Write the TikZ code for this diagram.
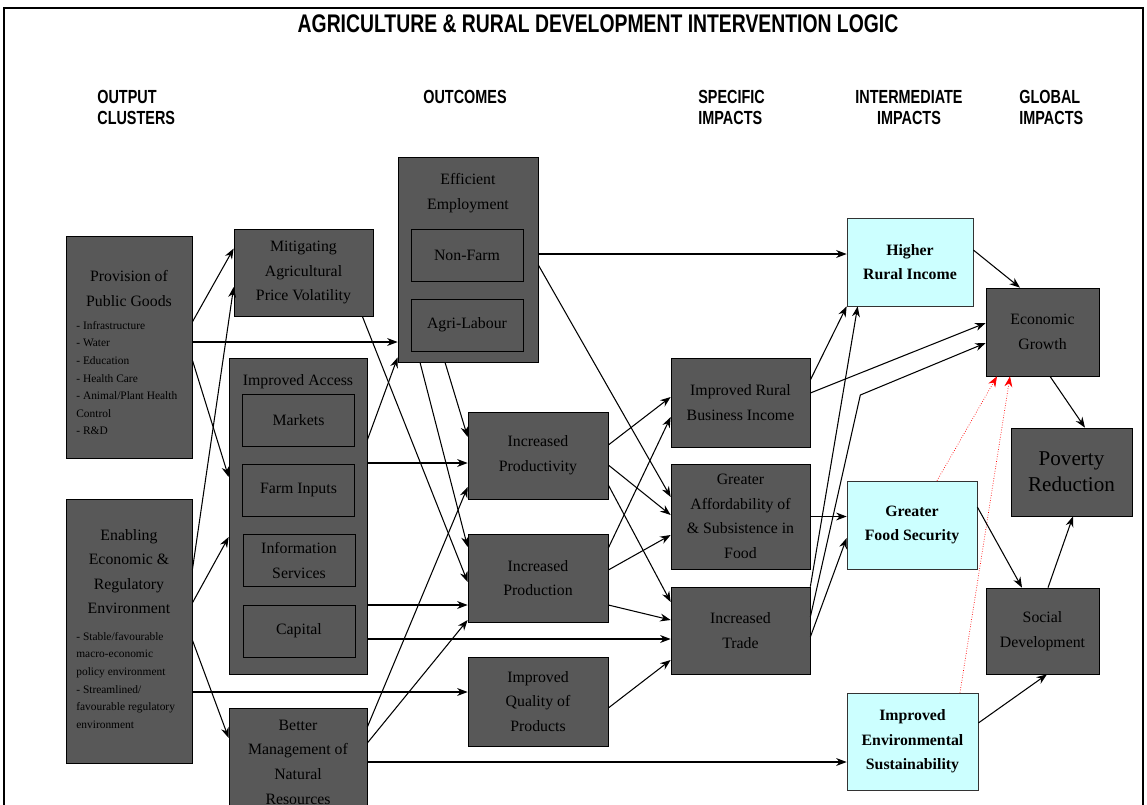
\documentclass[tikz,border=0pt]{standalone}
\usepackage{fontspec}
\setmainfont{Liberation Serif}
\newfontfamily\headfont[FakeStretch=0.76]{Liberation Sans}
\usetikzlibrary{arrows.meta,calc,positioning}
\definecolor{boxgray}{RGB}{88,88,88}
\definecolor{impactcyan}{RGB}{204,255,255}
\tikzset{
  darkbox/.style   = {shape=rectangle, draw=black, fill=boxgray, text=black, inner sep=0pt,
                      align=center, font=\fontsize{9}{14}\selectfont},
  innerbox/.style  = {darkbox, minimum width=2.24cm, minimum height=1.04cm},
  impactbox/.style = {shape=rectangle, draw=black!80, fill=impactcyan, text=black, inner sep=0pt,
                      align=center, font=\bfseries\fontsize{9}{14}\selectfont},
  boxtitle/.style  = {align=center, inner sep=0pt, text=black, font=\fontsize{9}{14}\selectfont},
  boxlist/.style   = {align=left, anchor=north west, inner sep=0pt, text=black,
                      font=\fontsize{6.5}{10}\selectfont},
  header/.style    = {inner sep=0pt, font=\headfont\bfseries\fontsize{10.8}{12}\selectfont},
  link/.style      = {draw=black, line width=0.6pt, -{Stealth[length=6pt,width=4.5pt]}},
  hint/.style      = {draw=red, line width=0.4pt, densely dotted,
                      -{Stealth[length=6pt,width=4.5pt]}}
}

\begin{document}
\begin{tikzpicture}[x=0.02cm,y=-0.02cm]
  \useasboundingbox (0,0) rectangle (1147,805);
  \clip (0,0) rectangle (1147,805);
  \draw[line width=1.2pt] (4,812) -- (4,8) -- (1143,8) -- (1143,812);

  \node[inner sep=0pt, font=\headfont\bfseries\fontsize{14.5}{16}\selectfont] (title) at (598,23.5)
    {AGRICULTURE \& RURAL DEVELOPMENT INTERVENTION LOGIC};
  \node[header, anchor=north west, align=left] (hOut) at (97,90) {OUTPUT\\CLUSTERS};
  \node[header] (hOutc) at (465,96.5) {OUTCOMES};
  \node[header, anchor=north west, align=left] (hSpec) at (698,90) {SPECIFIC\\IMPACTS};
  \node[header, anchor=north, align=center] (hInt) at (909,90) {INTERMEDIATE\\IMPACTS};
  \node[header, anchor=north west, align=left] (hGlob) at (1019,90) {GLOBAL\\IMPACTS};

  % output clusters
  \node[darkbox, minimum width=2.52cm, minimum height=4.44cm] (pg) at (129,347) {};
  \node[boxtitle] (pgT) at (129,288.5) {Provision of\\Public Goods};
  \node[boxlist] (pgL) at (76,321)
    {- Infrastructure\\- Water\\- Education\\- Health Care\\- Animal/Plant Health\\Control\\- R\&D};
  \node[darkbox, minimum width=2.52cm, minimum height=5.28cm] (ee) at (129,631) {};
  \node[boxtitle] (eeT) at (129,571.5) {Enabling\\Economic \&\\Regulatory\\Environment};
  \node[boxlist] (eeL) at (76,632)
    {- Stable/favourable\\macro-economic\\policy environment\\- Streamlined/\\favourable regulatory\\environment};

  \node[darkbox, minimum width=2.78cm, minimum height=1.74cm] (mp) at (303.5,272.5)
    {Mitigating\\Agricultural\\Price Volatility};
  \node[darkbox, minimum width=2.76cm, minimum height=6.32cm] (ia) at (298,516) {};
  \node[boxtitle] (iaT) at (298,382) {Improved Access};
  \node[innerbox] (mk) at (298.5,420.5) {Markets};
  \node[innerbox] (fi) at (298.5,490) {Farm Inputs};
  \node[innerbox] (is) at (299,560.5) {Information\\Services};
  \node[innerbox] (cp) at (299,631) {Capital};
  \node[darkbox, minimum width=2.76cm, minimum height=2.16cm] (bm) at (298,762)
    {Better\\Management of\\Natural\\Resources};

  % outcomes
  \node[darkbox, minimum width=2.8cm, minimum height=4.1cm] (ef) at (468,259.5) {};
  \node[boxtitle] (efT) at (468,193) {Efficient\\Employment};
  \node[innerbox] (nf) at (467,255) {Non-Farm};
  \node[innerbox] (al) at (467,325) {Agri-Labour};
  \node[darkbox, minimum width=2.8cm, minimum height=1.74cm] (ip) at (538,455.5) {Increased\\Productivity};
  \node[darkbox, minimum width=2.8cm, minimum height=1.76cm] (ipn) at (538,578) {Increased\\Production};
  \node[darkbox, minimum width=2.8cm, minimum height=1.78cm] (iq) at (538,701.5) {Improved\\Quality of\\Products};

  % specific impacts
  \node[darkbox, minimum width=2.78cm, minimum height=1.78cm] (rb) at (740.5,402.5) {Improved Rural\\Business Income};
  \node[darkbox, minimum width=2.78cm, minimum height=2.1cm] (ga) at (740.5,516.5)
    {Greater\\Affordability of\\\& Subsistence in\\Food};
  \node[darkbox, minimum width=2.78cm, minimum height=1.74cm] (it) at (740.5,630.5) {Increased\\Trade};

  % intermediate impacts
  \node[impactbox, minimum width=2.52cm, minimum height=1.76cm] (hr) at (910,262) {Higher\\Rural Income};
  \node[impactbox, minimum width=2.6cm, minimum height=1.76cm] (gf) at (912,525) {Greater\\Food Security};
  \node[impactbox, minimum width=2.62cm, minimum height=1.94cm] (ie) at (912.5,741.5)
    {Improved\\Environmental\\Sustainability};

  % global impacts
  \node[darkbox, minimum width=2.26cm, minimum height=1.76cm] (eg) at (1042.5,332) {Economic\\Growth};
  \node[darkbox, minimum width=2.42cm, minimum height=1.76cm, font=\fontsize{12}{15}\selectfont] (pr)
    at (1071.5,472) {Poverty\\Reduction};
  \node[darkbox, minimum width=2.26cm, minimum height=1.72cm] (sd) at (1042.5,631) {Social\\Development};

  \draw[link] ($(pg.east)+(0,-25)$) -- ($(mp.west)+(0,-24)$);
  \draw[link] ($(pg.east)+(0,-5)$) -- ($(ef.west|-pg.east)+(0,-5)$);
  \draw[link] ($(pg.east)+(0,13)$) -- ($(ia.west)+(0,-39)$);
  \draw[link] ($(ee.east)+(0,-61)$) -- ($(mp.west)+(0,14.5)$);
  \draw[link] ($(ee.east)+(0,-28)$) -- ($(ia.west)+(0,21)$);
  \draw[link] ($(ee.east)+(0,9)$) -- ($(bm.west)+(0,-24)$);
  \draw[link] ($(ee.east)+(0,61)$) -- ($(iq.west|-ee.east)+(0,61)$);
  \draw[link] ($(mp.south east)+(-11,0)$) -- ($(ipn.west)+(0,4)$);
  \draw[link] ($(ia.east)+(0,-76)$) -- ($(ef.south west)+(0,-5)$);
  \draw[link] ($(ia.east)+(0,-53)$) -- ($(ip.west|-ia.east)+(0,-53)$);
  \draw[link] ($(ia.east)+(0,89)$) -- ($(ipn.west|-ia.east)+(0,89)$);
  \draw[link] ($(ia.east)+(0,123)$) -- ($(it.west|-ia.east)+(0,123)$);
  \draw[link] ($(bm.east)+(0,-35)$) -- ($(ip.west)+(0,31.5)$);
  \draw[link] ($(bm.east)+(0,-19)$) -- ($(ipn.west)+(0,42)$);
  \draw[link] (bm.east) -- (bm.east-|ie.west);
  \draw[link] ($(ef.south)+(-23,0)$) -- ($(ip.west)+(0,-18.5)$);
  \draw[link] ($(ef.south)+(-48,0)$) -- ($(ipn.west)+(0,-31)$);
  \draw[link] ($(ef.east)+(0,-5.5)$) -- ($(hr.west|-ef.east)+(0,-5.5)$);
  \draw[link] ($(ef.east)+(0,5.5)$) -- ($(ga.west)+(0,-19.5)$);
  \draw[link] ($(ip.east)+(0,-10.5)$) -- ($(rb.west)+(0,-5.5)$);
  \draw[link] ($(ip.east)+(0,9.5)$) -- ($(ga.west)+(0,-1.5)$);
  \draw[link] ($(ip.east)+(0,29.5)$) -- ($(it.west)+(0,-28.5)$);
  \draw[link] ($(ipn.east)+(0,-30)$) -- ($(rb.west)+(0,14.5)$);
  \draw[link] ($(ipn.east)+(0,-8)$) -- ($(ga.west)+(0,18.5)$);
  \draw[link] ($(ipn.east)+(0,27)$) -- ($(it.west)+(0,-10.5)$);
  \draw[link] ($(iq.east)+(0,6.5)$) -- ($(it.west)+(0,29.5)$);
  \draw[link] ($(rb.east)+(0,-22.5)$) -- (hr.south west);
  \draw[link] ($(rb.east)+(0,-9.5)$) -- ($(eg.west)+(0,-9)$);
  \draw[link] (ga.east) -- (ga.east-|gf.west);
  \draw[link] (it.north east) -- ($(hr.south west)+(11,0)$);
  \draw[link] ($(it.east)+(0,-13.5)$) -- ++(50,-222) -- ($(eg.west)+(0,11)$);
  \draw[link] ($(it.east)+(0,6.5)$) -- ($(gf.west)+(0,13)$);
  \draw[link] ($(hr.east)+(0,-12)$) -- ($(eg.north)+(-22.5,0)$);
  \draw[hint] ($(gf.north)+(25,0)$) -- ($(eg.south)+(-45.5,0)$);
  \draw[hint] ($(ie.north)+(47.5,0)$) -- ($(eg.south)+(-32.5,0)$);
  \draw[link] ($(eg.south)+(7.5,0)$) -- ($(pr.north)+(13.5,0)$);
  \draw[link] ($(gf.east)+(0,-18)$) -- ($(sd.north)+(-20.5,0)$);
  \draw[link] ($(sd.north)+(5.5,0)$) -- ($(pr.south)+(1.5,0)$);
  \draw[link] ($(ie.east)+(0,-18.5)$) -- ($(sd.south)+(4.5,0)$);
\end{tikzpicture}
\end{document}
